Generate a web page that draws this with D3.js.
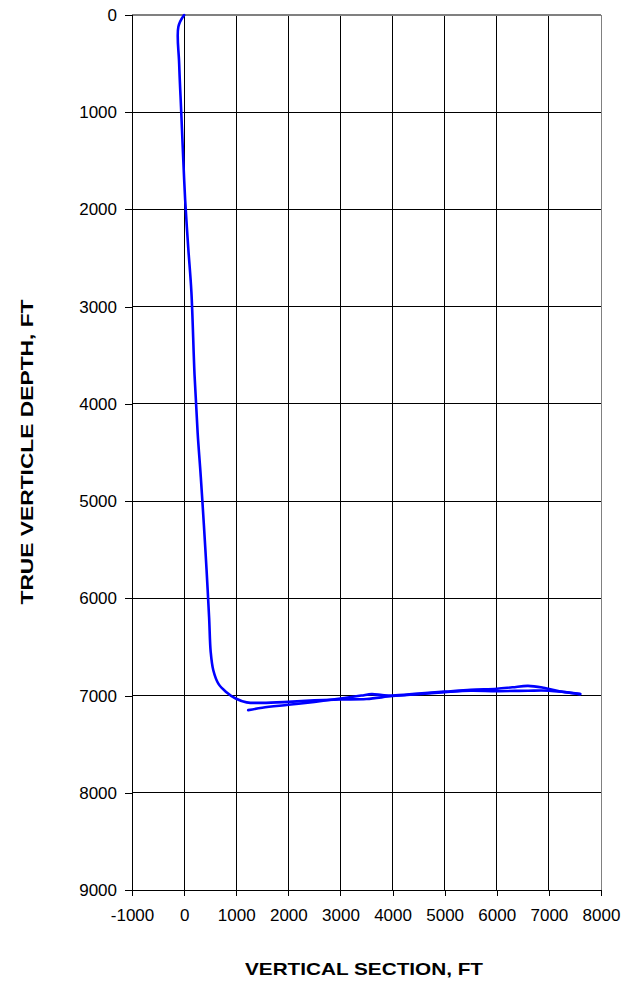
<!DOCTYPE html>
<html><head><meta charset="utf-8">
<script src="https://cdn.jsdelivr.net/npm/d3@7"></script>
<style>body{margin:0;background:#fff;}svg{display:block;font-family:"Liberation Sans",Arial,sans-serif;}</style>
</head><body>
<svg id="c" width="628" height="1002"></svg>
<script>
const xTicks = [-1000,0,1000,2000,3000,4000,5000,6000,7000,8000];
const yTicks = [0,1000,2000,3000,4000,5000,6000,7000,8000,9000];
const xTitle = "VERTICAL SECTION, FT";
const yTitle = "TRUE VERTICLE DEPTH, FT";

// Main wellbore: vertical section (ft), true vertical depth (ft)
const mainVS  = [0,-110,-95,-55,-15,20,80,140,200,260,320,380,430,480,510,560,660,800,990,1200,1500,2000,2500,3000,3500,4000,4500,5000,5500,6000,6600,7000,7300,7600];
const mainTVD = [0,120,500,1000,1500,1900,2400,2850,3700,4300,4750,5250,5700,6200,6550,6740,6880,6960,7030,7070,7075,7065,7050,7040,7035,7005,6985,6965,6950,6955,6950,6950,6965,6985];
// Second lateral
const sideVS  = [1230,1500,2000,2500,3000,3400,3600,3800,4000,4500,5000,5500,6000,6300,6600,6900,7200,7600];
const sideTVD = [7150,7125,7095,7065,7030,7000,6985,6995,7000,6980,6960,6940,6930,6915,6900,6920,6955,6985];

const svg = d3.select("#c");
const x = d3.scaleLinear().domain([-1000,8000]).range([132,601]);
const y = d3.scaleLinear().domain([0,9000]).range([15,890]);

// grid
svg.append("g").selectAll("line").data(xTicks.slice(1)).join("line")
  .attr("x1",d=>x(d)).attr("x2",d=>x(d)).attr("y1",y(0)).attr("y2",y(9000))
  .attr("stroke",d=>d===8000?"#808080":"#000").attr("stroke-width",1).attr("shape-rendering","crispEdges");
svg.append("g").selectAll("line").data(yTicks.slice(0,-1)).join("line")
  .attr("y1",d=>y(d)).attr("y2",d=>y(d)).attr("x1",x(-1000)).attr("x2",x(8000))
  .attr("stroke",d=>d===0?"#808080":"#000").attr("stroke-width",d=>d===0?2:1).attr("shape-rendering","crispEdges");

// axes
const fmt = d=>String(d);
const yAxis = d3.axisLeft(y).tickValues(yTicks).tickSize(7).tickPadding(8).tickFormat(fmt);
const gy = svg.append("g").attr("transform",`translate(${x(-1000)},0)`).call(yAxis);
const xAxis = d3.axisBottom(x).tickValues(xTicks).tickSize(6).tickPadding(13).tickFormat(fmt);
const gx = svg.append("g").attr("transform",`translate(0,${y(9000)})`).call(xAxis);
[gx,gy].forEach(g=>{
  g.selectAll("path").attr("stroke","#000").attr("stroke-width",1.5).attr("shape-rendering","crispEdges");
  g.selectAll("line").attr("stroke","#000").attr("shape-rendering","crispEdges");
  g.selectAll("text").attr("font-size",17).attr("fill","#000").attr("font-family","Liberation Sans, Arial, sans-serif");
});

// lines
const line = d3.line().x(d=>x(d[0])).y(d=>y(d[1])).curve(d3.curveCatmullRom.alpha(0.5));
const mainPts = mainVS.map((v,i)=>[v,mainTVD[i]]);
const sidePts = sideVS.map((v,i)=>[v,sideTVD[i]]);
[mainPts,sidePts].forEach(p=>{
  svg.append("path").datum(p).attr("d",line).attr("fill","none")
    .attr("stroke","#0000ff").attr("stroke-width",2.6).attr("stroke-linejoin","round").attr("stroke-linecap","round");
});

// titles
svg.append("text").attr("x",364).attr("y",975).attr("text-anchor","middle")
  .attr("font-size",17).attr("font-weight","bold").attr("textLength",238).attr("lengthAdjust","spacingAndGlyphs").text(xTitle);
svg.append("text").attr("transform","translate(33,452) rotate(-90)").attr("text-anchor","middle")
  .attr("font-size",17).attr("font-weight","bold").attr("textLength",305).attr("lengthAdjust","spacingAndGlyphs").text(yTitle);
</script>
</body></html>
